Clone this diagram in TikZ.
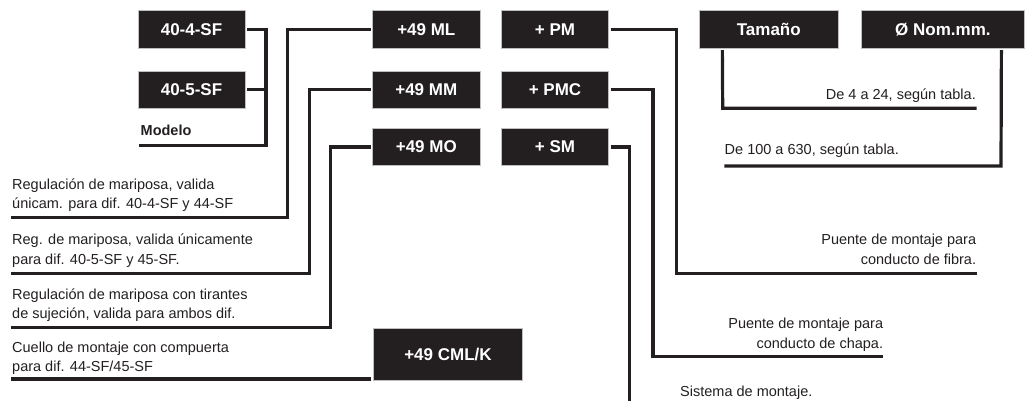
\documentclass[tikz,border=0pt]{standalone}
\usepackage{fontspec}
\setmainfont{Liberation Sans}
\definecolor{ink}{HTML}{231F20}
\begin{document}
\begin{tikzpicture}[x=1pt,y=-1pt,
  box/.style={fill=ink, draw=gray!50, line width=0.7pt, text=white,
    font=\fontsize{17}{20}\selectfont\bfseries, minimum height=37.6pt, inner sep=0pt},
  conn/.style={draw=ink, line width=3.2pt},
  lbl/.style={text=ink, font=\fontsize{14.5}{19.5}\selectfont, inner sep=0pt}
]
\useasboundingbox (0,0) rectangle (1030,400);
\clip (0,0) rectangle (1030,400);

% boxes
\node[box, minimum width=107pt] (A) at (191.5,29.5) {40-4-SF};
\node[box, minimum width=107pt] (B) at (191.5,89.8) {40-5-SF};
\node[box, minimum width=107.3pt] (ML) at (426.3,29.5) {+49 ML};
\node[box, minimum width=107.3pt] (MM) at (426.3,89.8) {+49 MM};
\node[box, minimum width=107.3pt] (MO) at (426.3,147) {+49 MO};
\node[box, minimum width=106.6pt] (PM) at (555,29.5) {+ PM};
\node[box, minimum width=106.6pt] (PMC) at (555,89.8) {+ PMC};
\node[box, minimum width=106.6pt] (SM) at (555,147) {+ SM};
\node[box, minimum width=139pt] (T) at (768.8,29.5) {Tamaño};
\node[box, minimum width=162.3pt] (N) at (942.9,29.5) {Ø Nom.mm.};
\node[box, minimum width=149.4pt, minimum height=51.7pt] (CML) at (448,354.2) {+49 CML/K};

% labels
\node[lbl, font=\fontsize{14.5}{19.5}\selectfont\bfseries, anchor=base west] (mod) at (140.5,135) {Modelo};
\node[lbl, anchor=base west] (t1) at (12,208.8) {\begin{tabular}[b]{@{}l@{}}Regulación de mariposa, valida\\únicam. para dif. 40-4-SF y 44-SF\end{tabular}};
\node[lbl, anchor=base west] (t2) at (12,264) {\begin{tabular}[b]{@{}l@{}}Reg. de mariposa, valida únicamente\\para dif. 40-5-SF y 45-SF.\end{tabular}};
\node[lbl, anchor=base west] (t3) at (12,318.8) {\begin{tabular}[b]{@{}l@{}}Regulación de mariposa con tirantes\\de sujeción, valida para ambos dif.\end{tabular}};
\node[lbl, anchor=base west] (t4) at (12,371.6) {\begin{tabular}[b]{@{}l@{}}Cuello de montaje con compuerta\\para dif. 44-SF/45-SF\end{tabular}};
\node[lbl, anchor=base east] (t5) at (976.3,264) {\begin{tabular}[b]{@{}r@{}}Puente de montaje para\\conducto de fibra.\end{tabular}};
\node[lbl, anchor=base east] (t6) at (883.3,348) {\begin{tabular}[b]{@{}r@{}}Puente de montaje para\\conducto de chapa.\end{tabular}};
\node[lbl, anchor=base east] (t7) at (976,99.3) {De 4 a 24, según tabla.};
\node[lbl, anchor=base west] (t8) at (724.5,154.3) {De 100 a 630, según tabla.};
\node[lbl, anchor=base west] (t9) at (680,396.3) {Sistema de montaje.};

% free ends
\coordinate (eMod) at (139,145.7);
\coordinate (e1) at (11,217.3);
\coordinate (e2) at (11,273.3);
\coordinate (e3) at (11,327.5);
\coordinate (e4) at (11,379);
\coordinate (e5) at (976.7,273.3);
\coordinate (e6) at (883.3,356.7);
\coordinate (e7) at (629.3,420);
\coordinate (e8) at (976.5,108.3);
\coordinate (e9) at (724.3,166);

% connectors
\draw[conn] ([xshift=2pt]A.east) -| (266,145.7) -- (eMod);
\draw[conn] ([xshift=2pt]B.east) -- (266,89.8);
\draw[conn] ([xshift=-1.5pt]ML.west) -| (287.7,217.3) -- (e1);
\draw[conn] ([xshift=-1.5pt]MM.west) -| (309.3,273.3) -- (e2);
\draw[conn] ([xshift=-1.5pt]MO.west) -| (330.5,327.5) -- (e3);
\path ([xshift=-1.5pt]CML.west) coordinate (cw);
\draw[conn] (cw |- e4) -- (e4);
\draw[conn] ([xshift=2pt]PM.east) -| (676.7,273.3) -- (e5);
\draw[conn] ([xshift=2pt]PMC.east) -| (653,356.7) -- (e6);
\draw[conn] ([xshift=2pt]SM.east) -| (e7);
\draw[conn] ([xshift=23.4pt,yshift=-1.5pt]T.south west) -- (722.7,108.3) -- (e8);
\draw[conn] ([xshift=-23pt,yshift=-1.5pt]N.south east) -- (1001,166) -- (e9);
\end{tikzpicture}
\end{document}
